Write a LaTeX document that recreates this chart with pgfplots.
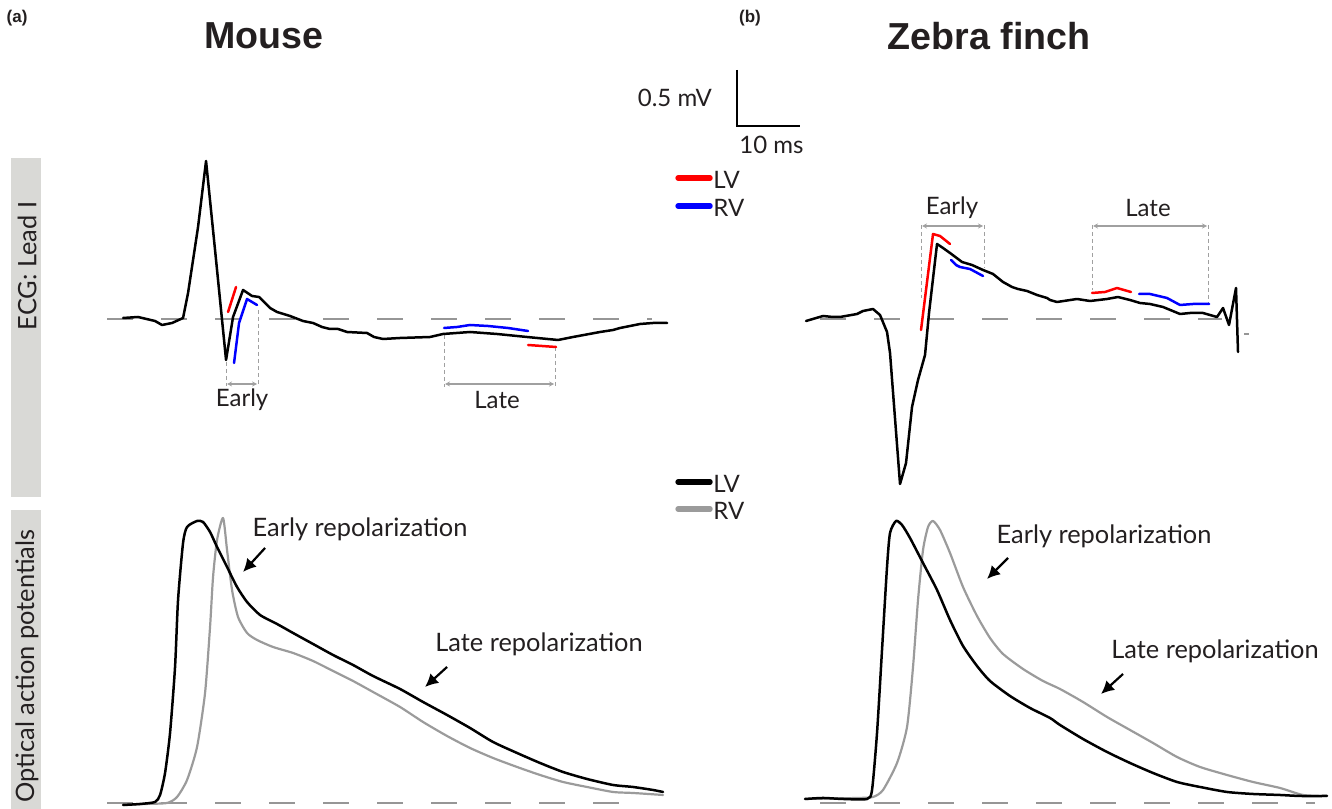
\documentclass[border=0pt]{standalone}
\usepackage{pgfplots}
\pgfplotsset{compat=1.18}
\usepackage{fontspec}
\setmainfont{Lato}
\newfontfamily\titlefont{Liberation Sans}
\usetikzlibrary{arrows.meta}
\definecolor{boxgrey}{RGB}{217,217,214}
\definecolor{baseg}{RGB}{150,150,150}
\definecolor{brg}{RGB}{160,160,160}
\definecolor{rvgrey}{RGB}{155,155,155}
\definecolor{txt}{RGB}{35,31,32}
\definecolor{lvred}{RGB}{255,0,0}
\definecolor{rvblue}{RGB}{0,0,255}
\tikzset{lab/.style={text=txt, font=\fontsize{12}{13}\selectfont},
  ann/.style={text=txt, font=\fontsize{12.7}{14}\selectfont}}
\begin{document}
\begin{tikzpicture}
\begin{axis}[scale only axis, width=666pt, height=404.5pt,
  xmin=0, xmax=1332, ymin=0, ymax=809, y dir=reverse,
  hide axis, clip=false,
  every axis plot/.append style={line join=round, line cap=round}]
\path (axis cs:0,0) rectangle (axis cs:1332,809);
% side boxes
\fill[boxgrey] (axis cs:11,158) rectangle (axis cs:41,497);
\fill[boxgrey] (axis cs:11,510) rectangle (axis cs:41,809);
\node[rotate=90, ann] at (axis cs:27,266) {ECG: Lead I};
\node[rotate=90, ann] at (axis cs:27,666) {Optical action potentials};
% titles
\node[font=\titlefont\bfseries\fontsize{18.8}{20}\selectfont, text=txt] at (axis cs:264,36) {Mouse};
\node[font=\titlefont\bfseries\fontsize{18.8}{20}\selectfont, text=txt] at (axis cs:989,36) {Zebra finch};
\node[font=\titlefont\bfseries\fontsize{8.5}{9}\selectfont, text=txt] at (axis cs:17,18) {(a)};
\node[font=\titlefont\bfseries\fontsize{8.5}{9}\selectfont, text=txt] at (axis cs:750,18) {(b)};
% scale bar
\draw[black, line width=0.8pt] (axis cs:737,70) -- (axis cs:737,126) -- (axis cs:800,126);
\node[anchor=east, lab] at (axis cs:719,98) {0.5 mV};
\node[anchor=west, lab, inner sep=0pt] at (axis cs:739,145) {10 ms};
% legends
\draw[lvred, line width=2.7pt, line cap=round] (axis cs:678,178) -- (axis cs:710,178);
\draw[rvblue, line width=2.7pt, line cap=round] (axis cs:678,206) -- (axis cs:710,206);
\node[anchor=west, lab, inner sep=0pt] at (axis cs:713,180) {LV};
\node[anchor=west, lab, inner sep=0pt] at (axis cs:713,208) {RV};
\draw[black, line width=2.7pt, line cap=round] (axis cs:678,482) -- (axis cs:710,482);
\draw[rvgrey, line width=2.7pt, line cap=round] (axis cs:678,509) -- (axis cs:710,509);
\node[anchor=west, lab, inner sep=0pt] at (axis cs:713,484) {LV};
\node[anchor=west, lab, inner sep=0pt] at (axis cs:713,511) {RV};
% baselines
\addplot[baseg, line width=1pt, dash pattern=on 13pt off 14pt, line cap=butt] coordinates {(107,319) (652,319)};
\addplot[baseg, line width=1pt, dash pattern=on 13pt off 14pt, line cap=butt] coordinates {(820,319) (1222,319)};
\addplot[baseg, line width=1pt, line cap=butt] coordinates {(1244,334) (1249,334)};
\addplot[baseg, line width=1pt, dash pattern=on 13pt off 14pt, line cap=butt] coordinates {(107,803) (620,803)};
\addplot[baseg, line width=1pt, dash pattern=on 13pt off 14pt, line cap=butt] coordinates {(820,803) (1315,803)};
% brackets mouse
\draw[brg, line width=0.5pt, dash pattern=on 2pt off 1.5pt] (axis cs:226,362) -- (axis cs:226,386);
\draw[brg, line width=0.5pt, dash pattern=on 2pt off 1.5pt] (axis cs:258,310) -- (axis cs:258,386);
\draw[brg, line width=0.6pt, {Stealth[length=2.5pt,width=2.5pt]}-{Stealth[length=2.5pt,width=2.5pt]}] (axis cs:227,384) -- (axis cs:257,384);
\node[lab] at (axis cs:242,400) {Early};
\draw[brg, line width=0.5pt, dash pattern=on 2pt off 1.5pt] (axis cs:444,335) -- (axis cs:444,387);
\draw[brg, line width=0.5pt, dash pattern=on 2pt off 1.5pt] (axis cs:555,347) -- (axis cs:555,387);
\draw[brg, line width=0.6pt, {Stealth[length=2.5pt,width=2.5pt]}-{Stealth[length=2.5pt,width=2.5pt]}] (axis cs:445,384) -- (axis cs:554,384);
\node[lab] at (axis cs:497,400) {Late};
% brackets zebra finch
\draw[brg, line width=0.5pt, dash pattern=on 2pt off 1.5pt] (axis cs:921,225) -- (axis cs:921,298);
\draw[brg, line width=0.5pt, dash pattern=on 2pt off 1.5pt] (axis cs:984,225) -- (axis cs:984,268);
\draw[brg, line width=0.6pt, {Stealth[length=2.5pt,width=2.5pt]}-{Stealth[length=2.5pt,width=2.5pt]}] (axis cs:922,226) -- (axis cs:983,226);
\node[lab] at (axis cs:952,208) {Early};
\draw[brg, line width=0.5pt, dash pattern=on 2pt off 1.5pt] (axis cs:1092,225) -- (axis cs:1092,290);
\draw[brg, line width=0.5pt, dash pattern=on 2pt off 1.5pt] (axis cs:1208,225) -- (axis cs:1208,303);
\draw[brg, line width=0.6pt, {Stealth[length=2.5pt,width=2.5pt]}-{Stealth[length=2.5pt,width=2.5pt]}] (axis cs:1093,226) -- (axis cs:1207,226);
\node[lab] at (axis cs:1148,208) {Late};
% mouse ECG
\addplot[black, line width=1.25pt] coordinates {(123,318) (138,317) (155,321) (162,325) (172,323) (183,318) (188,293) (198,227) (206,161) (215,250) (226,360) (233,317) (243,290) (252,296) (259,297) (270,308) (277,312) (290,316) (303,321) (313,323) (322,327) (330,329) (338,329) (347,332) (367,333) (374,337) (383,339) (400,338) (430,337) (443,334) (470,332) (497,334) (527,337) (558,340) (573,337) (600,332) (613,330) (620,328) (640,324) (653,323) (667,323)};
\addplot[lvred, line width=1.25pt] coordinates {(228,312) (236,287)};
\addplot[rvblue, line width=1.25pt] coordinates {(234,363) (239,323) (247,299) (252,302) (257,305)};
\addplot[rvblue, line width=1.25pt] coordinates {(444,328) (457,327) (470,325) (488,326) (508,328) (528,331)};
\addplot[lvred, line width=1.25pt] coordinates {(528,345) (542,346) (556,347)};
% zebra finch ECG
\addplot[black, line width=1.25pt] coordinates {(806,321) (823,316) (833,317) (840,317) (857,314) (863,311) (873,309) (880,315) (887,332) (890,353) (900,484) (906,463) (912,407) (918,380) (925,355) (929,313) (937,244) (943,248) (950,253) (962,262) (972,265) (983,270) (993,274) (1003,282) (1012,287) (1018,289) (1027,291) (1037,295) (1047,298) (1050,300) (1057,302) (1077,299) (1090,301) (1107,299) (1118,297) (1130,300) (1140,303) (1150,304) (1163,307) (1180,314) (1190,313) (1203,313) (1217,317) (1223,308) (1229,325) (1236,288) (1238,352)};
\addplot[lvred, line width=1.25pt] coordinates {(921,330) (933,234) (940,236) (950,244)};
\addplot[rvblue, line width=1.25pt] coordinates {(951,260) (956,265) (960,267) (970,269) (983,276)};
\addplot[lvred, line width=1.25pt] coordinates {(1092,293) (1105,292) (1117,288) (1131,292)};
\addplot[rvblue, line width=1.25pt] coordinates {(1139,294) (1150,294) (1167,298) (1180,305) (1193,304) (1209,304)};
% mouse optical AP
\addplot[rvgrey, line width=1.1pt, smooth, tension=0.4] coordinates {(123,805) (145,804) (167,803) (177,797) (187,780) (197,747) (205,693) (210,627) (213,577) (217,540) (223,518) (227,550) (232,590) (238,617) (247,633) (257,640) (273,647) (293,653) (313,661) (333,671) (353,681) (373,692) (400,707) (423,722) (447,736) (470,748) (493,758) (517,767) (540,775) (563,782) (587,787) (613,792) (633,793) (663,795)};
\addplot[black, line width=1.25pt, smooth, tension=0.4] coordinates {(123,805) (140,804) (155,802) (160,795) (165,773) (170,733) (175,667) (178,600) (183,543) (187,527) (197,521) (203,522) (210,532) (217,547) (227,567) (237,587) (247,602) (260,615) (277,624) (293,633) (313,644) (333,655) (353,665) (373,676) (400,689) (423,702) (447,715) (470,728) (493,742) (517,753) (540,763) (563,772) (587,779) (613,785) (633,787) (653,790) (663,792)};
% zebra finch optical AP
\addplot[rvgrey, line width=1.1pt, smooth, tension=0.4] coordinates {(805,799) (857,798) (873,797) (883,790) (897,763) (907,727) (913,667) (918,600) (923,550) (928,527) (933,521) (940,530) (950,553) (963,587) (977,616) (990,638) (1003,654) (1023,669) (1043,681) (1060,689) (1083,702) (1107,717) (1130,730) (1153,743) (1177,757) (1200,767) (1227,775) (1253,782) (1280,788) (1303,795) (1327,796)};
\addplot[black, line width=1.25pt, smooth, tension=0.4] coordinates {(805,799) (823,798) (843,799) (867,799) (872,790) (877,733) (882,650) (887,567) (890,533) (896,521) (902,525) (910,538) (923,563) (937,590) (950,620) (963,646) (977,666) (990,681) (1010,696) (1030,708) (1050,718) (1060,725) (1083,739) (1107,752) (1130,763) (1153,773) (1177,782) (1200,787) (1227,792) (1253,794) (1280,795) (1300,796) (1327,796)};
% annotations
\node[ann] at (axis cs:360,529) {Early repolarization};
\draw[black, line width=1.1pt, -{Latex[length=6.5pt,width=6.5pt]}] (axis cs:265,548) -- (axis cs:243,572);
\node[ann] at (axis cs:539,644) {Late repolarization};
\draw[black, line width=1.1pt, -{Latex[length=6.5pt,width=6.5pt]}] (axis cs:447,667) -- (axis cs:425,687);
\node[ann] at (axis cs:1104,536) {Early repolarization};
\draw[black, line width=1.1pt, -{Latex[length=6.5pt,width=6.5pt]}] (axis cs:1008,558) -- (axis cs:987,579);
\node[ann] at (axis cs:1215,651) {Late repolarization};
\draw[black, line width=1.1pt, -{Latex[length=6.5pt,width=6.5pt]}] (axis cs:1123,674) -- (axis cs:1101,694);
\end{axis}
\end{tikzpicture}
\end{document}
